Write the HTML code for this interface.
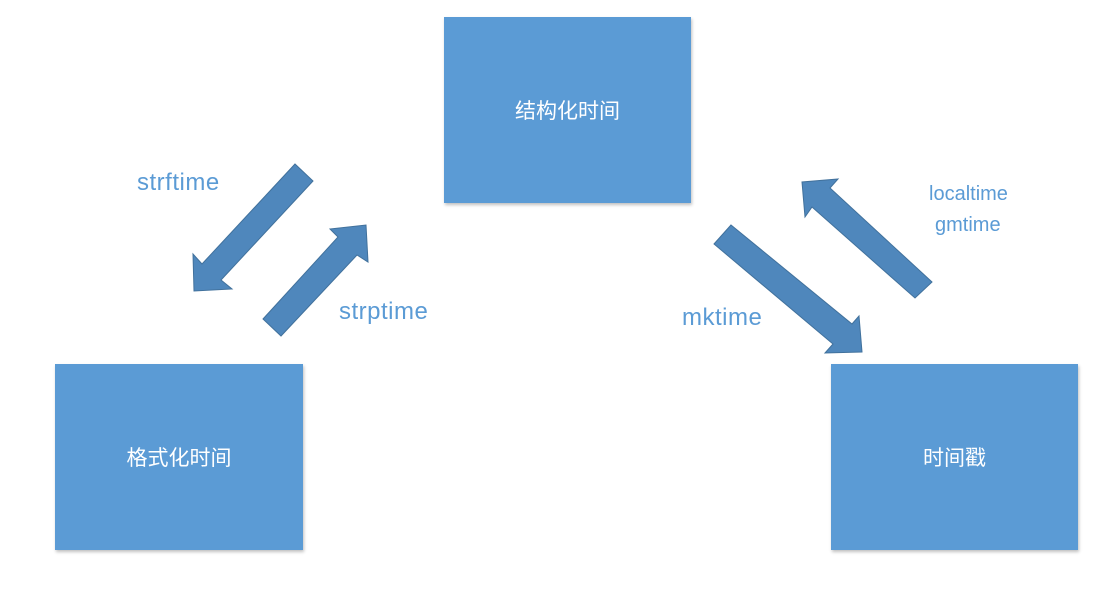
<!DOCTYPE html>
<html><head><meta charset="utf-8"><style>
body{margin:0;width:1118px;height:596px;background:#fff;position:relative;overflow:hidden;font-family:"Liberation Sans","Noto Sans CJK SC",sans-serif}
.b{position:absolute;background:#5b9bd5;color:#fff;font-size:21px;display:flex;align-items:center;justify-content:center;box-shadow:1px 2px 3px rgba(0,0,0,.25)}
.l{position:absolute;color:#5b9bd5;font-size:20px;line-height:1}
.L{font-size:24px;letter-spacing:0.5px}
</style></head><body>
<div class="b" style="left:444px;top:17px;width:247px;height:186px">结构化时间</div>
<div class="b" style="left:55px;top:364px;width:248px;height:186px">格式化时间</div>
<div class="b" style="left:831px;top:364px;width:247px;height:186px">时间戳</div>
<svg width="1118" height="596" style="position:absolute;left:0;top:0">
<g fill="#4f87bc" stroke="#41719c" stroke-width="1">
<polygon points="295,164 313,181 221,280 232,289 194,291 193,254 202,264"/>
<polygon points="263,319 338,237 330,229 366,225 368,262 357,255 281,336"/>
<polygon points="731,225 852,324 859,316 862,352 825,353 833,344 714,244"/>
<polygon points="932,282 830,188 838,179 802,182 805,217 812,207 915,298"/>
</g></svg>
<div class="l L" style="left:137px;top:171px">strftime</div>
<div class="l L" style="left:339px;top:300px">strptime</div>
<div class="l L" style="left:682px;top:306px">mktime</div>
<div class="l" style="left:929px;top:184px">localtime</div>
<div class="l" style="left:935px;top:215px">gmtime</div>
</body></html>
